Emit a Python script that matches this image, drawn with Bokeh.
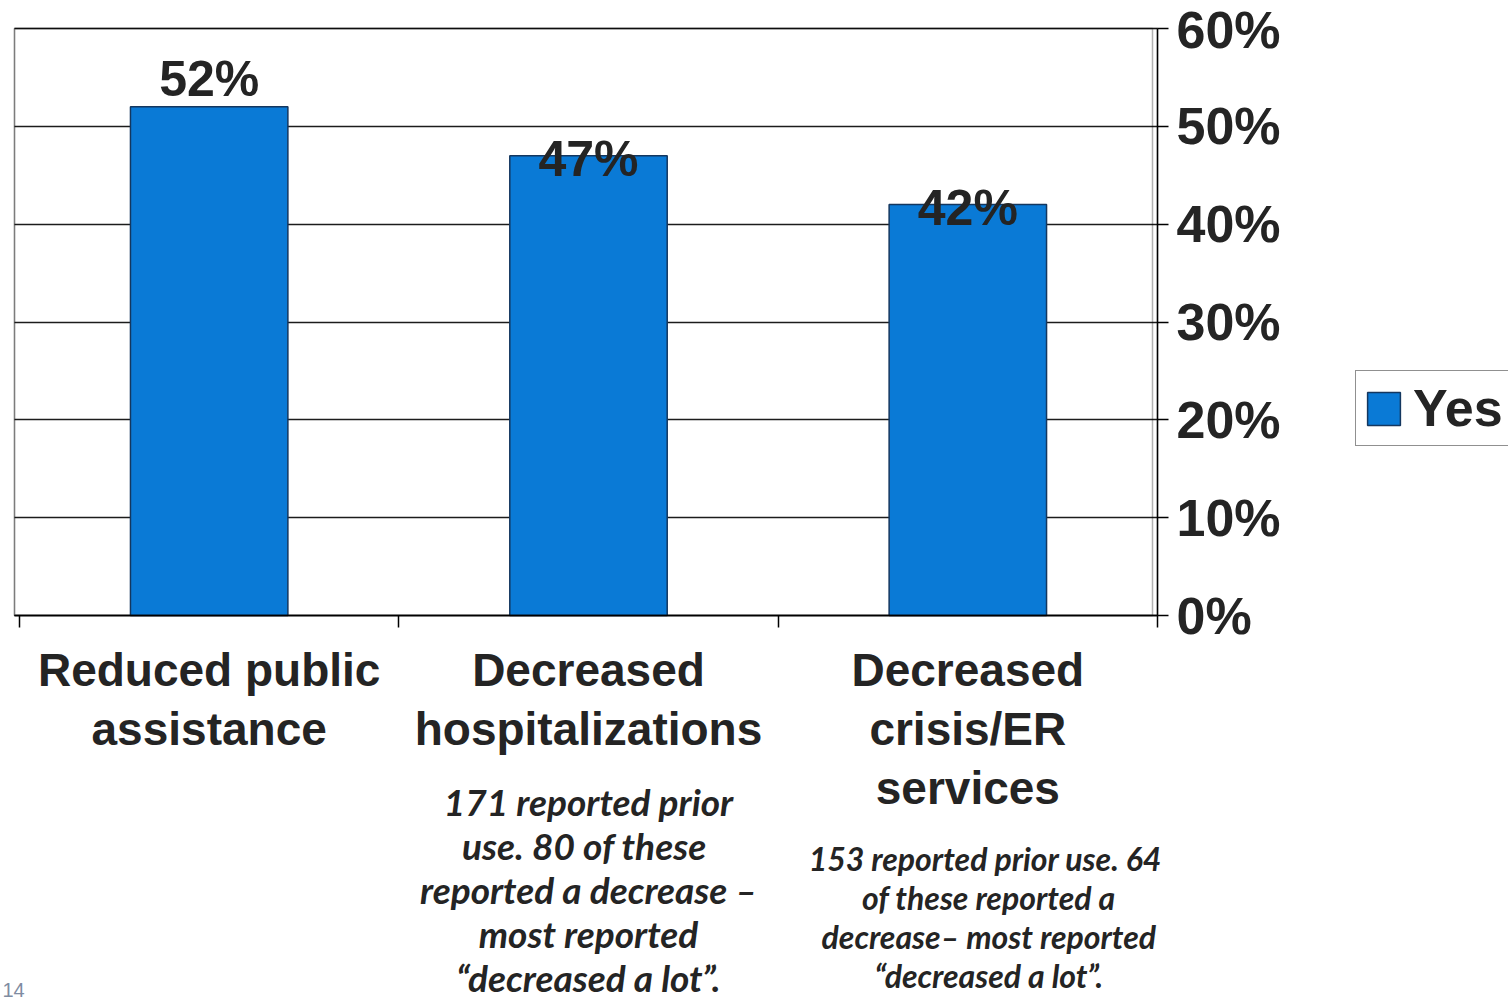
from bokeh.plotting import figure
from bokeh.models import (Range1d, FixedTicker, PrintfTickFormatter, CustomJSTickFormatter,
                          BoxAnnotation, LabelSet, ColumnDataSource, Legend, LegendItem, Grid)
from bokeh.core.properties import value
from bokeh.embed import file_html
from bokeh.resources import INLINE

# ---- data ----
categories = ["Reduced public\nassistance", "Decreased\nhospitalizations", "Decreased\ncrisis/ER\nservices"]
values = [52, 47, 42]
value_labels = ["52%", "47%", "42%"]
series_name = "Yes"
y_ticks = [0, 10, 20, 30, 40, 50, 60]
note_hosp = "171 reported prior\nuse.  80 of these\nreported a decrease \u2013\nmost reported\n\u201cdecreased a lot\u201d."
note_crisis = "153 reported prior use.  64\nof these reported a\ndecrease\u2013 most reported\n\u201cdecreased a lot\u201d."
page_number = "14"

# ---- styling / layout ----
BAR = "#0a7ad6"
BAR_EDGE = "#14375f"
INK = "#242424"
SANS = "Liberation Sans"
NOTE_FONT = "Lato"
label_shift = [11, -20, -20]   # px offset of value labels from bar tops

W, H = 1508, 1001
LEFT, TOP, FRAME_W, FRAME_H = 14, 28, 1143, 587     # chart box in page pixels
X0, X1, Y0, Y1 = -0.0132, 3.0, 0, 60
PX = FRAME_W / (X1 - X0)       # px per category unit
PY = FRAME_H / (Y1 - Y0)       # px per percent


def below(px):
    """data y for a point `px` pixels below the chart baseline"""
    return -px / PY


x_centers = [i + 0.5 for i in range(len(categories))]

p = figure(width=W, height=H, output_backend="svg", toolbar_location=None,
           x_range=Range1d(X0 - LEFT / PX, X1 + (W - LEFT - FRAME_W) / PX),
           y_range=Range1d(below(H - TOP - FRAME_H), Y1 + TOP / PY),
           x_axis_location="below", y_axis_location="right",
           min_border=0, min_border_left=0, min_border_right=0,
           min_border_top=0, min_border_bottom=0)
p.background_fill_color = "white"
p.border_fill_color = "white"
p.outline_line_color = None

# grid lines (limited to the chart box)
p.xgrid.visible = False
yg = p.ygrid[0]
yg.ticker = FixedTicker(ticks=y_ticks)
yg.grid_line_color = "#1c1c1c"
yg.grid_line_width = 1.5
yg.bounds = (Y0, Y1)
if "cross_bounds" in Grid.properties():
    yg.cross_bounds = (X0, X1)
else:
    yg.visible = False
    p.segment(x0=[X0] * len(y_ticks), x1=[X1] * len(y_ticks), y0=y_ticks, y1=y_ticks,
              line_color="#1c1c1c", line_width=1.5, level="underlay")

src = ColumnDataSource(dict(x=x_centers, top=values, label=value_labels, shift=label_shift))
bars = p.vbar(x="x", top="top", width=0.415, source=src,
              fill_color=BAR, line_color=BAR_EDGE, line_width=1.5)

# chart box and the double rule at the value axis
p.add_layout(BoxAnnotation(left=X0, right=X1, bottom=Y0, top=Y1, fill_alpha=0,
                           line_color="black", line_width=1.5))
p.add_layout(BoxAnnotation(left=X0, right=X1 - 5 / PX, bottom=Y0, top=Y1, fill_alpha=0,
                           line_color="black", line_width=1.5))

# right value axis, pinned to the chart box edge
ya = p.yaxis[0]
ya.fixed_location = X1
ya.bounds = (Y0, Y1)
ya.ticker = FixedTicker(ticks=y_ticks)
ya.formatter = PrintfTickFormatter(format="%d%%")
ya.major_label_text_font = SANS
ya.major_label_text_font_style = "bold"
ya.major_label_text_font_size = "52px"
ya.major_label_text_color = INK
ya.major_label_standoff = 8
ya.major_tick_out = 11
ya.major_tick_in = 0
ya.minor_tick_out = 0
ya.minor_tick_in = 0
ya.axis_line_color = "black"
ya.axis_line_width = 1.5
ya.major_tick_line_color = "black"
ya.major_tick_line_width = 1.5

# category axis (separator ticks only), pinned to the baseline
xa = p.xaxis[0]
xa.fixed_location = Y0
xa.bounds = (X0, X1)
xa.ticker = FixedTicker(ticks=[0, 1, 2, 3])
xa.formatter = CustomJSTickFormatter(code="return ''")
xa.major_tick_out = 12
xa.major_tick_in = 0
xa.minor_tick_out = 0
xa.minor_tick_in = 0
xa.axis_line_color = "black"
xa.axis_line_width = 1.5
xa.major_tick_line_color = "black"
xa.major_tick_line_width = 1.5

# value labels
p.add_layout(LabelSet(x="x", y="top", text="label", y_offset="shift", source=src,
                      text_align="center", text_baseline="alphabetic",
                      text_font=value(SANS), text_font_style="bold",
                      text_font_size="50px", text_color=INK))

# category labels
p.text(x=x_centers, y=[below(28)] * len(categories), text=categories,
       text_align="center", text_baseline="top",
       text_font=value(SANS), text_font_style="bold", text_font_size="46px",
       text_color=INK, text_line_height=1.14)

# notes
p.text(x=[x_centers[1]], y=[below(163)], text=[note_hosp],
       text_align="center", text_baseline="top",
       text_font=value(NOTE_FONT), text_font_style="bold italic", text_font_size="37px",
       text_color=INK, text_line_height=0.98)
p.text(x=[x_centers[2]], y=[below(223)], x_offset=21, text=[note_crisis],
       text_align="center", text_baseline="top",
       text_font=value(NOTE_FONT), text_font_style="bold italic", text_font_size="32px",
       text_color=INK, text_line_height=1.0)

# page number
p.text(x=[X0 - 12 / PX], y=[below(367)], text=[page_number],
       text_align="left", text_baseline="top",
       text_font=value(SANS), text_font_size="20px", text_color="#7f8ca2")

legend = Legend(items=[LegendItem(label=series_name, renderers=[bars])],
                location=(1355, H - 446), orientation="vertical",
                border_line_color="#222222", border_line_width=1.5,
                background_fill_color="white", background_fill_alpha=1,
                label_text_font=SANS, label_text_font_style="bold",
                label_text_font_size="52px", label_text_color=INK,
                glyph_width=41, glyph_height=41, label_standoff=9,
                padding=7, margin=0, spacing=0)
p.add_layout(legend)

open("out.html", "w").write(file_html(p, INLINE))
